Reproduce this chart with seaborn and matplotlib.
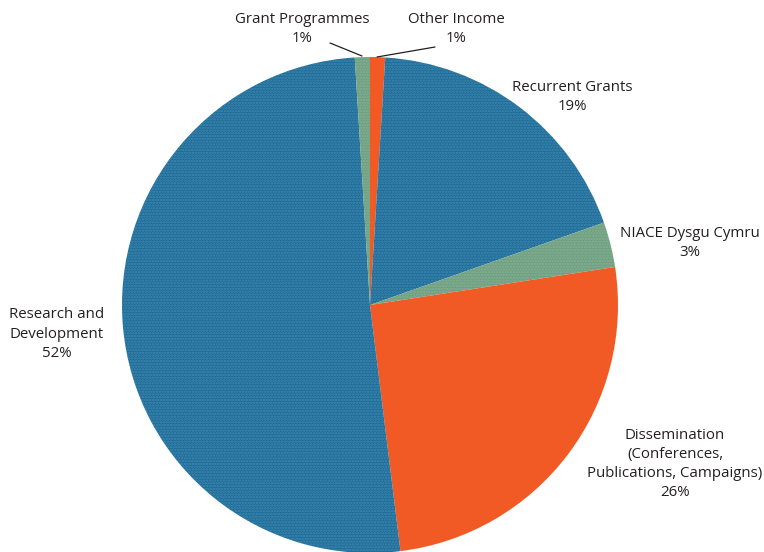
import matplotlib
matplotlib.use("Agg")
import matplotlib.pyplot as plt
import seaborn as sns

sns.set_theme(style="white")
plt.rcParams["font.family"] = ["Open Sans", "DejaVu Sans"]
plt.rcParams["hatch.linewidth"] = 1.2

# Income sources, clockwise from 12 o'clock
categories = [
    "Other Income",
    "Recurrent Grants",
    "NIACE Dysgu Cymru",
    "Dissemination\n(Conferences,\nPublications, Campaigns)",
    "Research and\nDevelopment",
    "Grant Programmes",
]
shares = [1, 19, 3, 26, 52, 1]

BLUE = "#1a6c9a"
GREEN = "#6c9e7e"
ORANGE = "#f15a24"
colors = [ORANGE, BLUE, GREEN, ORANGE, BLUE, GREEN]
# the blue and green slices carry a fine dotted screen
textured = [False, True, True, False, True, True]

W, H = 764, 552
fig = plt.figure(figsize=(W / 100, H / 100), dpi=100)
ax = fig.add_axes([0, 0, 1, 1])

cx, cy, r = 370, H - 305, 248
wedges, _ = ax.pie(shares, colors=colors, startangle=90, counterclock=False,
                   center=(cx, cy), radius=r, frame=True,
                   wedgeprops=dict(linewidth=0))
for w, tex in zip(wedges, textured):
    if tex:
        w.set_hatch("......")
        w.set_edgecolor((1, 1, 1, 0.18))
        w.set_linewidth(0)

ax.set_xlim(0, W)
ax.set_ylim(0, H)
ax.set_aspect("equal")
ax.axis("off")

# label anchor points (x, y from top)
label_pos = [
    (456, 29),
    (572, 97),
    (690, 243),
    (675, 464),
    (57, 334),
    (302, 29),
]
for name, val, (x, y) in zip(categories, shares, label_pos):
    ax.text(x, H - y, f"{name}\n{val}%", ha="center", va="center",
            fontsize=10.8, color="#231f20", linespacing=1.38)

# leader lines for the two thin slices
ax.plot([330, 362], [H - 43, H - 56], color="#231f20", lw=0.9)
ax.plot([435, 377], [H - 47, H - 57], color="#231f20", lw=0.9)

fig.savefig("out.png", dpi=100)
